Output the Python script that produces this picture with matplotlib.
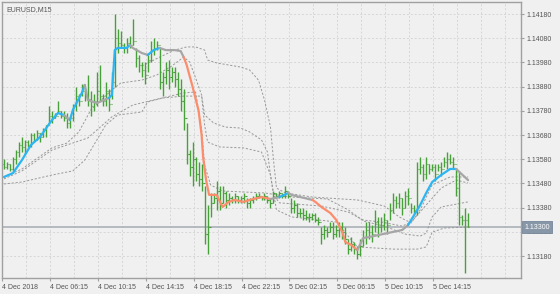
import matplotlib.pyplot as plt
import matplotlib.transforms as mtransforms

plt.rcParams['font.family'] = ['Liberation Sans', 'DejaVu Sans']

symbol = "EURUSD,M15"
time_labels = ["4 Dec 2018", "4 Dec 06:15", "4 Dec 10:15", "4 Dec 14:15", "4 Dec 18:15",
               "4 Dec 22:15", "5 Dec 02:15", "5 Dec 06:15", "5 Dec 10:15", "5 Dec 14:15"]
price_ticks = [1.1318, 1.1328, 1.1338, 1.1348, 1.1358, 1.1368, 1.1378, 1.1388, 1.1398, 1.1408, 1.1418]
last_price = 1.13300

# M15 bars
highs = [1.1358, 1.1357, 1.1356, 1.1359, 1.1362, 1.1365, 1.1367, 1.1366, 1.1366, 1.1369,
         1.1369, 1.1370, 1.1369, 1.1371, 1.1372, 1.1380, 1.1378, 1.1377, 1.1382, 1.1378,
         1.1378, 1.1377, 1.1376, 1.1381, 1.1388, 1.1385, 1.1389, 1.1387, 1.1393, 1.1386,
         1.1385, 1.1394, 1.1397, 1.1385, 1.1390, 1.1387, 1.1394, 1.1418, 1.1412, 1.1411,
         1.1406, 1.1408, 1.1409, 1.1416, 1.1404, 1.1401, 1.1398, 1.1398, 1.1402, 1.1407,
         1.1408, 1.1407, 1.1404, 1.1394, 1.1398, 1.1399, 1.1396, 1.1396, 1.1394, 1.1391,
         1.1387, 1.1373, 1.1362, 1.1365, 1.1359, 1.1357, 1.1356, 1.1347, 1.1339, 1.1344,
         1.1344, 1.1349, 1.1347, 1.1347, 1.1345, 1.1344, 1.1343, 1.1344, 1.1343, 1.1343,
         1.1344, 1.1342, 1.1342, 1.1343, 1.1344, 1.1344, 1.1343, 1.1344, 1.1343, 1.1342,
         1.1345, 1.1344, 1.1345, 1.1344, 1.1347, 1.1344, 1.1342, 1.1341, 1.1340, 1.1338,
         1.1338, 1.1337, 1.1336, 1.1336, 1.1336, 1.1334, 1.1330, 1.1331, 1.1330, 1.1332,
         1.1332, 1.1331, 1.1332, 1.1332, 1.1330, 1.1325, 1.1326, 1.1324, 1.1322, 1.1325,
         1.1329, 1.1332, 1.1332, 1.1331, 1.1337, 1.1334, 1.1334, 1.1336, 1.1333, 1.1340,
         1.1344, 1.1343, 1.1344, 1.1342, 1.1345, 1.1346, 1.1340, 1.1339, 1.1357, 1.1359,
         1.1356, 1.1359, 1.1356, 1.1356, 1.1356, 1.1356, 1.1357, 1.1359, 1.1361, 1.1360,
         1.1359, 1.1354, 1.1353, 1.1335, 1.1338, 1.1336]
lows = [1.1354, 1.1354, 1.1353, 1.1353, 1.1356, 1.1359, 1.1361, 1.1360, 1.1363, 1.1363,
        1.1365, 1.1366, 1.1365, 1.1367, 1.1367, 1.1373, 1.1373, 1.1375, 1.1377, 1.1375,
        1.1374, 1.1371, 1.1371, 1.1374, 1.1378, 1.1380, 1.1384, 1.1382, 1.1380, 1.1376,
        1.1378, 1.1380, 1.1382, 1.1380, 1.1380, 1.1378, 1.1383, 1.1388, 1.1402, 1.1404,
        1.1402, 1.1402, 1.1404, 1.1405, 1.1396, 1.1394, 1.1392, 1.1389, 1.1394, 1.1398,
        1.1401, 1.1403, 1.1387, 1.1384, 1.1389, 1.1387, 1.1390, 1.1388, 1.1384, 1.1378,
        1.1370, 1.1356, 1.1351, 1.1347, 1.1349, 1.1347, 1.1345, 1.1323, 1.1319, 1.1334,
        1.1340, 1.1337, 1.1337, 1.1340, 1.1338, 1.1339, 1.1340, 1.1340, 1.1340, 1.1340,
        1.1340, 1.1338, 1.1338, 1.1340, 1.1341, 1.1342, 1.1341, 1.1341, 1.1340, 1.1338,
        1.1340, 1.1342, 1.1342, 1.1342, 1.1342, 1.1342, 1.1336, 1.1336, 1.1334, 1.1334,
        1.1333, 1.1333, 1.1332, 1.1333, 1.1332, 1.1331, 1.1323, 1.1325, 1.1326, 1.1328,
        1.1325, 1.1326, 1.1326, 1.1325, 1.1323, 1.1319, 1.1320, 1.1319, 1.1317, 1.1318,
        1.1322, 1.1323, 1.1325, 1.1324, 1.1328, 1.1326, 1.1328, 1.1329, 1.1327, 1.1333,
        1.1336, 1.1338, 1.1338, 1.1335, 1.1338, 1.1339, 1.1336, 1.1336, 1.1335, 1.1352,
        1.1349, 1.1350, 1.1352, 1.1353, 1.1349, 1.1353, 1.1351, 1.1355, 1.1354, 1.1356,
        1.1354, 1.1343, 1.1331, 1.1331, 1.1311, 1.1330]
closes = [1.1355, 1.1356, 1.1354, 1.1358, 1.1361, 1.1364, 1.1363, 1.1365, 1.1364, 1.1368,
          1.1366, 1.1369, 1.1367, 1.1370, 1.1372, 1.1376, 1.1375, 1.1376, 1.1378, 1.1376,
          1.1375, 1.1373, 1.1375, 1.1380, 1.1384, 1.1382, 1.1386, 1.1384, 1.1383, 1.1380,
          1.1382, 1.1386, 1.1384, 1.1382, 1.1386, 1.1381, 1.1390, 1.1408, 1.1406, 1.1405,
          1.1404, 1.1406, 1.1405, 1.1407, 1.1400, 1.1397, 1.1395, 1.1393, 1.1399, 1.1403,
          1.1404, 1.1405, 1.1390, 1.1392, 1.1395, 1.1392, 1.1394, 1.1391, 1.1387, 1.1382,
          1.1375, 1.1360, 1.1355, 1.1358, 1.1352, 1.1350, 1.1348, 1.1327, 1.1330, 1.1340,
          1.1342, 1.1345, 1.1340, 1.1344, 1.1341, 1.1342, 1.1341, 1.1343, 1.1341, 1.1342,
          1.1343, 1.1340, 1.1341, 1.1342, 1.1343, 1.1343, 1.1342, 1.1343, 1.1341, 1.1340,
          1.1344, 1.1343, 1.1344, 1.1343, 1.1345, 1.1343, 1.1338, 1.1339, 1.1336, 1.1336,
          1.1335, 1.1334, 1.1334, 1.1335, 1.1333, 1.1332, 1.1327, 1.1329, 1.1328, 1.1330,
          1.1327, 1.1329, 1.1330, 1.1328, 1.1325, 1.1321, 1.1323, 1.1321, 1.1319, 1.1322,
          1.1326, 1.1329, 1.1328, 1.1327, 1.1332, 1.1330, 1.1331, 1.1333, 1.1331, 1.1337,
          1.1341, 1.1340, 1.1342, 1.1338, 1.1343, 1.1342, 1.1338, 1.1337, 1.1354, 1.1355,
          1.1352, 1.1356, 1.1354, 1.1355, 1.1352, 1.1355, 1.1354, 1.1357, 1.1358, 1.1357,
          1.1356, 1.1346, 1.1334, 1.1333, 1.1333, 1.1330]
first_open = 1.1356

# coloured moving average: points (bar index, price) and direction of each segment
ma_idx = [0, 3, 6, 9, 12, 16, 18, 20, 22, 23, 26, 27, 28, 31, 35, 36, 37, 38, 41, 42,
          43, 46, 48, 50, 52, 54, 57, 59, 60, 61, 63, 65, 66, 66.5, 67.5, 68.5, 71, 73, 75, 77,
          80, 82, 86, 89, 92, 95, 96, 103, 104, 106, 109, 111, 113, 114, 116, 118, 120, 122, 128, 133,
          135, 137, 139, 141, 143, 146, 149, 151, 155]
ma_val = [1.13507, 1.13523, 1.13577, 1.13639, 1.13672, 1.13742, 1.13771, 1.13763, 1.13742, 1.13784,
          1.13854, 1.13887, 1.13825, 1.13812, 1.13833, 1.13845, 1.14031, 1.14040, 1.14040, 1.14052,
          1.14040, 1.14019, 1.14011, 1.14031, 1.14040, 1.14031, 1.14031, 1.14027, 1.14002, 1.13970,
          1.13879, 1.13780, 1.13680, 1.13589, 1.13494, 1.13433, 1.13433, 1.13383, 1.13404, 1.13412,
          1.13404, 1.13412, 1.13424, 1.13416, 1.13424, 1.13441, 1.13433, 1.13412, 1.13404, 1.13383,
          1.13358, 1.13329, 1.13279, 1.13238, 1.13226, 1.13205, 1.13255, 1.13259, 1.13275, 1.13288,
          1.13309, 1.13350, 1.13391, 1.13441, 1.13486, 1.13515, 1.13540, 1.13540, 1.13494]
ma_dir = ["up"] * 7 + ["flat", "up", "up", "up"] + ["flat"] * 3 + ["up"] * 5 + ["flat"] * 3 \
    + ["up", "up"] + ["flat"] * 4 + ["down"] * 15 + ["flat", "up", "flat", "flat"] \
    + ["down"] * 8 + ["flat"] * 5 + ["up"] * 7 + ["flat"]

# dashed envelope lines
upper_outer_idx = [46, 52, 57, 61, 64, 67, 68, 71, 79, 82, 85, 87, 89, 90, 91, 94, 103, 118,
                   127, 132, 136, 139, 143, 149, 155]
upper_outer_val = [1.13965, 1.14002, 1.14031, 1.14044, 1.14044, 1.14031, 1.13990, 1.13978, 1.13961,
                   1.13949, 1.13907, 1.13825, 1.13713, 1.13577, 1.13461, 1.13441, 1.13424, 1.13412,
                   1.13387, 1.13342, 1.13317, 1.13371, 1.13474, 1.13507, 1.13507]
upper_inner_idx = [0, 6, 16, 21, 25, 29, 36, 39, 46, 51, 56, 60, 62, 64, 66, 67, 70, 74, 79, 82,
                   86, 88, 89, 90, 92, 106, 115, 120, 126, 133, 136, 141, 146, 151, 155]
upper_inner_val = [1.13507, 1.13540, 1.13627, 1.13647, 1.13693, 1.13784, 1.13866, 1.13895, 1.13907,
                   1.13928, 1.13965, 1.14002, 1.13982, 1.13916, 1.13845, 1.13763, 1.13730, 1.13713,
                   1.13709, 1.13693, 1.13660, 1.13610, 1.13515, 1.13433, 1.13400, 1.13387, 1.13362,
                   1.13329, 1.13321, 1.13304, 1.13321, 1.13391, 1.13461, 1.13494, 1.13482]
lower_inner_idx = [0, 6, 16, 21, 28, 36, 43, 50, 60, 64, 66, 67, 69, 73, 87, 96, 108, 115, 120,
                   127, 134, 139, 141, 143, 146, 155]
lower_inner_val = [1.13499, 1.13532, 1.13618, 1.13639, 1.13668, 1.13755, 1.13804, 1.13825, 1.13854,
                   1.13858, 1.13701, 1.13556, 1.13474, 1.13449, 1.13441, 1.13424, 1.13416, 1.13371,
                   1.13325, 1.13304, 1.13271, 1.13263, 1.13275, 1.13342, 1.13383, 1.13404]
lower_outer_idx = [0, 6, 16, 23, 27, 30, 34, 38, 46, 48, 53, 60, 66, 67, 68, 72, 80, 86, 89, 91,
                   96, 111, 116, 118, 130, 138, 141, 143, 147, 155]
lower_outer_val = [1.13478, 1.13486, 1.13515, 1.13532, 1.13577, 1.13639, 1.13722, 1.13763, 1.13775,
                   1.13817, 1.13833, 1.13841, 1.13841, 1.13722, 1.13651, 1.13631, 1.13627, 1.13610,
                   1.13515, 1.13371, 1.13342, 1.13321, 1.13247, 1.13218, 1.13209, 1.13209, 1.13218,
                   1.13279, 1.13296, 1.13300]

bg = "#f0f0f0"
text_col = "#555555"
frame_col = "#a0a0a0"
colors = {"up": "#2bb5f3", "down": "#fb8d6d", "flat": "#a6a6a6"}

fig = plt.figure(figsize=(5.6, 2.94), dpi=100)
fig.patch.set_facecolor(bg)
ax = fig.add_axes([2 / 560, 16 / 294, 519 / 560, 276 / 294])
ax.set_facecolor(bg)
ax.set_xlim(-0.33, 172.67)
ax.set_ylim(1.130897, 1.142296)

# grid
for k in range(1, 22):
    ax.axvline(8 * k - 0.67, color="#d6d6d6", lw=0.7, ls=(0, (2, 2)), zorder=0)
for p in price_ticks:
    ax.axhline(p, color="#d6d6d6", lw=0.7, ls=(0, (2, 2)), zorder=0)

# last price line
ax.axhline(last_price, color="#a4abb3", lw=1.1, zorder=1)

# envelopes
for xs, ys in [(upper_outer_idx, upper_outer_val), (upper_inner_idx, upper_inner_val),
               (lower_inner_idx, lower_inner_val), (lower_outer_idx, lower_outer_val)]:
    ax.plot(xs, ys, color="#999999", lw=0.7, ls=(0, (2.2, 1.8)), zorder=2)

# bars
opens = [first_open] + closes[:-1]
bar_col = "#48a03a"
xs = list(range(len(highs)))
ax.vlines(xs, lows, highs, color=bar_col, lw=1.0, zorder=3)
ax.hlines(opens, [x - 0.4 for x in xs], xs, color=bar_col, lw=0.8, zorder=3)
ax.hlines(closes, xs, [x + 0.4 for x in xs], color=bar_col, lw=0.8, zorder=3)

# moving average, grouped by direction
start = 0
for k in range(1, len(ma_dir) + 1):
    if k == len(ma_dir) or ma_dir[k] != ma_dir[start]:
        ax.plot(ma_idx[start:k + 1], ma_val[start:k + 1], color=colors[ma_dir[start]],
                lw=1.6, solid_capstyle="round", solid_joinstyle="round", zorder=4)
        start = k

# axes styling
for s in ax.spines.values():
    s.set_color(frame_col)
    s.set_linewidth(1.0)
ax.yaxis.tick_right()
ax.set_yticks(price_ticks)
ax.set_yticklabels([f"{p:.5f}" for p in price_ticks])
ax.set_xticks([16 * k - 0.67 for k in range(len(time_labels))])
ax.set_xticklabels(time_labels)
for lab in ax.get_xticklabels():
    lab.set_horizontalalignment("left")
ax.tick_params(axis="both", colors=frame_col, labelcolor=text_col, labelsize=5, length=2.5,
               width=0.8, pad=1.5)

ax.text(0.008, 0.985, symbol, transform=ax.transAxes, ha="left", va="top",
        fontsize=5, color=text_col)

trans = mtransforms.blended_transform_factory(ax.transAxes, ax.transData)
ax.text(1.006, last_price, f"{last_price:.5f}", transform=trans, ha="left", va="center",
        fontsize=5, color="white", zorder=6, clip_on=False,
        bbox=dict(boxstyle="square,pad=0.3", fc="#8897a8", ec="#76879a", lw=0.6))

fig.savefig("out.png", dpi=100, facecolor=bg)
